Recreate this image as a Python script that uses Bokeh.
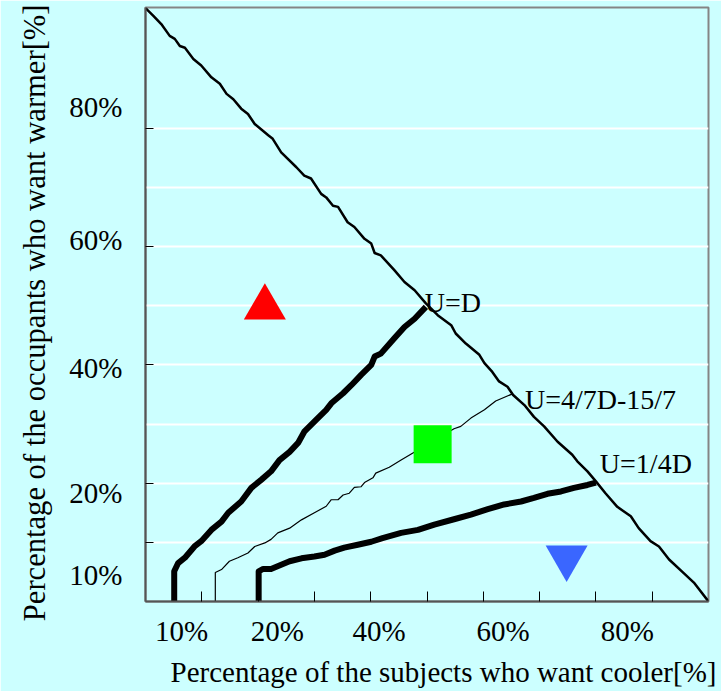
from bokeh.plotting import figure
from bokeh.models import Range1d, FixedTicker, Title
from bokeh.embed import file_html
from bokeh.resources import INLINE
from bokeh.core.properties import value

# ---- data (D = % wanting cooler, U = % wanting warmer) ----
diag_x = [0, 1.4, 2.8, 4.3, 5.2, 6.1, 7.0, 8.5, 9.9, 11.7, 13.2, 14.4, 15.6, 17.0, 18.2, 19.4,
          21.8, 22.6, 24.1, 26.8, 28.2, 29.4, 31.2, 32.1, 33.3, 34.2, 35.9, 37.1, 38.9, 40.1,
          40.7, 41.8, 44.2, 46.0, 47.8, 49.8, 51.9, 54.3, 55.1, 56.9, 59.3, 60.2, 61.6, 62.8,
          64.3, 65.3, 67.3, 69.0, 70.8, 73.2, 75.8, 76.7, 78.5, 80.0, 81.7, 83.8, 86.2, 87.6,
          89.7, 91.2, 93.0, 95.6, 97.4, 100]
diag_y = [100.3, 99.0, 97.6, 95.6, 95.1, 93.9, 93.6, 91.7, 90.6, 88.6, 87.5, 85.8, 84.9, 83.3,
          82.4, 80.7, 78.8, 78.2, 75.9, 73.4, 72.0, 71.5, 68.9, 68.3, 66.9, 66.7, 64.1, 63.3,
          61.3, 60.5, 58.9, 58.5, 56.0, 54.0, 52.6, 50.4, 48.4, 46.7, 45.3, 43.6, 41.7, 40.3,
          38.8, 37.2, 36.3, 34.9, 33.2, 31.2, 29.6, 27.0, 24.8, 23.7, 22.0, 20.3, 18.3, 16.0,
          14.4, 12.4, 10.2, 9.3, 7.1, 4.8, 3.2, 0]

ud_x = [5.1, 5.1, 5.8, 7.0, 8.7, 9.9, 11.7, 13.5, 14.7, 17.0, 18.8, 20.6, 22.3, 23.8, 25.6,
        27.1, 28.2, 30.3, 32.1, 33.0, 35.1, 36.6, 38.3, 40.1, 40.7, 41.8, 44.2, 46.0, 47.8, 49.8]
ud_y = [0, 5.1, 6.5, 7.4, 9.3, 10.2, 12.1, 13.5, 15.0, 16.9, 19.2, 20.6, 22.0, 23.9, 25.3,
        26.8, 28.7, 30.7, 32.4, 33.5, 35.2, 36.6, 38.3, 40.0, 41.4, 41.9, 44.5, 46.4, 47.8, 49.8]

thin_x = [12.4, 12.4, 13.5, 14.9, 16.4, 18.2, 19.4, 21.2, 22.3, 23.5, 25.6, 27.7, 30.0, 32.1,
          33.0, 34.2, 35.1, 36.2, 37.1, 38.3, 38.9, 40.4, 40.9, 43.3, 45.4, 47.5, 54.8, 56.0,
          57.8, 60.2, 62.2, 65.2]
thin_y = [0, 4.9, 5.4, 6.8, 7.4, 8.2, 9.3, 9.9, 10.5, 11.6, 12.4, 13.8, 15.0, 16.1, 17.2,
          17.2, 18.0, 18.3, 19.3, 19.4, 20.1, 20.9, 21.7, 22.7, 23.9, 25.1, 29.2, 29.6, 31.0,
          32.4, 33.9, 35.1]

q_x = [20.1, 20.1, 20.9, 22.3, 24.1, 25.6, 27.7, 30.0, 31.8, 33.6, 35.3, 37.7, 40.1, 42.1,
       45.4, 48.4, 51.3, 54.8, 57.8, 60.8, 63.7, 66.7, 69.0, 71.4, 73.8, 76.1, 78.5, 80.0]
q_y = [0, 5.1, 5.5, 5.5, 6.2, 6.8, 7.3, 7.6, 7.9, 8.6, 9.1, 9.6, 10.1, 10.7, 11.6, 12.1,
       13.0, 13.9, 14.7, 15.6, 16.4, 16.9, 17.5, 18.2, 18.6, 19.2, 19.7, 20.1]

warm_pt = (21.2, 49.7)      # red triangle
neutral_pt = (51.0, 26.6)   # green square
cool_pt = (74.8, 7.4)       # blue inverted triangle

curve_labels = ["U=D", "U=4/7D-15/7", "U=1/4D"]
curve_label_x = [49.6, 67.4, 80.7]
curve_label_y = [50.6, 34.2, 23.3]

x_label_pos = [6.4, 23.4, 41.5, 63.5, 85.6]
x_label_txt = ["10%", "20%", "40%", "60%", "80%"]
x_tick_marks = [10, 20, 30, 40, 50, 60, 70, 80, 90]
y_label_pos = [4.4, 18.4, 39.4, 61.1, 83.6]
y_label_txt = ["10%", "20%", "40%", "60%", "80%"]
y_tick_marks = [10, 20, 40, 60, 80]
y_grid = [10, 20, 30, 40, 50, 60, 70, 80]

x_title = "Percentage of the subjects who want cooler[%]"
y_title = "Percentage of the occupants who want warmer[%]"

FONT = "Liberation Serif"
FS = "29px"
BG = "#ccffff"

p = figure(width=721, height=691, x_range=Range1d(0, 100), y_range=Range1d(0, 100.4),
           output_backend="svg", toolbar_location=None,
           min_border_left=145, min_border_right=13, min_border_top=7, min_border_bottom=89)
p.background_fill_color = BG
p.border_fill_color = BG
p.outline_line_color = "#858585"
p.outline_line_width = 2

p.xgrid.visible = False
p.ygrid.ticker = FixedTicker(ticks=y_grid)
p.ygrid.grid_line_color = "white"
p.ygrid.grid_line_width = 2

for ax, pos, txt, marks, tick_len in [
        (p.xaxis[0], x_label_pos, x_label_txt, x_tick_marks, 10),
        (p.yaxis[0], y_label_pos, y_label_txt, y_tick_marks, 8)]:
    ax.ticker = FixedTicker(ticks=pos, minor_ticks=marks)
    ax.major_label_overrides = dict(zip(pos, txt))
    ax.major_tick_in = 0
    ax.major_tick_out = 0
    ax.minor_tick_in = tick_len
    ax.minor_tick_out = 0
    ax.minor_tick_line_color = "black"
    ax.minor_tick_line_width = 1
    ax.axis_line_color = "#555555"
    ax.axis_line_width = 2
    ax.major_label_text_font = FONT
    ax.major_label_text_font_size = FS
    ax.major_label_text_color = "black"

p.xaxis.major_label_standoff = 13
p.yaxis.major_label_standoff = 23

p.line(diag_x, diag_y, line_color="black", line_width=2.5, line_join="round")
p.line(ud_x, ud_y, line_color="black", line_width=6, line_join="round")
p.line(thin_x, thin_y, line_color="black", line_width=1.2, line_join="round")
p.line(q_x, q_y, line_color="black", line_width=6, line_join="round")

p.scatter([warm_pt[0]], [warm_pt[1]], marker="triangle", size=42,
          fill_color="#ff0000", line_color=None)
p.scatter([neutral_pt[0]], [neutral_pt[1]], marker="square", size=38,
          fill_color="#00ff00", line_color=None)
p.scatter([cool_pt[0]], [cool_pt[1]], marker="inverted_triangle", size=42,
          fill_color="#3a66ff", line_color=None)

p.text(curve_label_x, curve_label_y, text=curve_labels, text_font=value(FONT),
       text_font_size="28px", text_color="black", text_align="left",
       text_baseline="alphabetic")

# axis titles, placed as in the reference (slightly off-centre)
p.add_layout(Title(text=x_title, align="left", offset=25, standoff=8,
                   text_font=FONT, text_font_size=FS, text_font_style="normal",
                   text_color="black"), "below")
p.add_layout(Title(text=y_title, align="right", offset=-3, standoff=30,
                   text_font=FONT, text_font_size="30.6px", text_font_style="normal",
                   text_color="black"), "left")

open("out.html", "w").write(file_html(p, INLINE))
